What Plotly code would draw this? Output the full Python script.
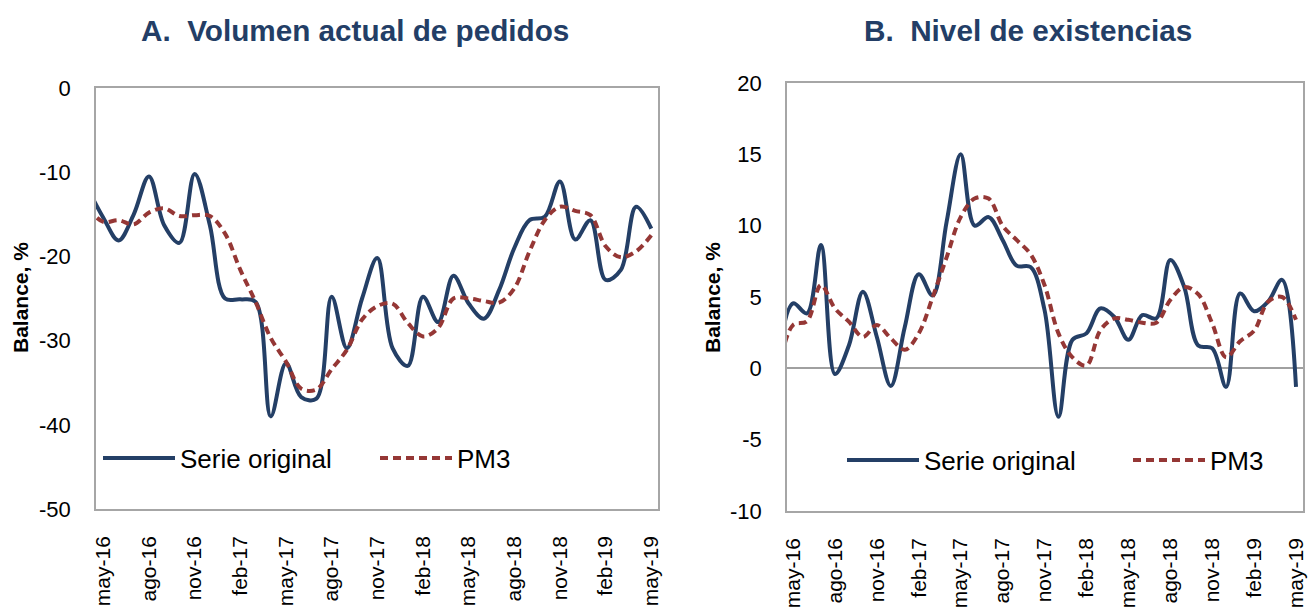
import plotly.graph_objects as go

# ---------------- data ----------------
months = ['abr-16', 'may-16', 'jun-16', 'jul-16', 'ago-16', 'sep-16', 'oct-16', 'nov-16', 'dic-16',
          'ene-17', 'feb-17', 'mar-17', 'abr-17', 'may-17', 'jun-17', 'jul-17', 'ago-17', 'sep-17',
          'oct-17', 'nov-17', 'dic-17', 'ene-18', 'feb-18', 'mar-18', 'abr-18', 'may-18', 'jun-18',
          'jul-18', 'ago-18', 'sep-18', 'oct-18', 'nov-18', 'dic-18', 'ene-19', 'feb-19', 'mar-19',
          'abr-19', 'may-19']

tick_labels = ['may-16', 'ago-16', 'nov-16', 'feb-17', 'may-17', 'ago-17', 'nov-17',
               'feb-18', 'may-18', 'ago-18', 'nov-18', 'feb-19', 'may-19']

pedidos_ticks = [0, -10, -20, -30, -40, -50]
pedidos_tick_text = ['0', '-10', '-20', '-30', '-40', '-50']
existencias_ticks = [20, 15, 10, 5, 0, -5, -10]
existencias_tick_text = ['20', '15', '10', '5', '0', '-5', '-10']

pedidos_original = [-12.0, -15.4, -18.1, -15.0, -10.5, -16.3, -18.4, -10.2, -16.3, -25.0,
                    -25.1, -25.4, -39.0, -32.7, -36.7, -36.9, -24.8, -30.9, -25.0, -20.2,
                    -30.9, -33.0, -24.8, -27.8, -22.3, -25.6, -27.4, -24.0, -19.0, -15.7,
                    -15.3, -11.1, -18.0, -15.7, -22.8, -21.6, -14.1, -16.7]

pedidos_pm3 = [-14.3, -15.9, -15.7, -16.2, -14.8, -14.3, -15.2, -15.1, -15.2, -17.3,
               -21.6, -25.4, -29.7, -32.5, -35.7, -35.8, -33.4, -31.1, -27.5, -25.9,
               -25.6, -27.9, -29.5, -28.5, -25.0, -25.0, -25.3, -25.5, -23.8, -19.4,
               -15.7, -14.1, -14.6, -15.1, -18.8, -20.1, -19.4, -17.5]

existencias_original = [1.0, 4.55, 3.85, 8.64, -0.4, 1.6, 5.37, 2.2, -1.24, 2.9,
                        6.6, 5.1, 10.3, 15.0, 10.0, 10.6, 9.0, 7.2, 7.1, 4.1,
                        -3.4, 2.0, 2.45, 4.2, 3.6, 2.0, 3.73, 3.5, 7.6, 5.7,
                        1.6, 1.4, -1.3, 5.25, 4.0, 4.67, 6.2, -1.3]

existencias_pm3 = [0.0, 3.03, 3.3, 5.84, 4.2, 3.27, 2.2, 3.03, 2.1, 1.3,
                   2.45, 5.0, 7.8, 10.6, 11.9, 11.9, 10.0, 9.0, 8.0, 5.84,
                   2.45, 0.77, 0.2, 2.68, 3.5, 3.4, 3.2, 3.2, 4.79, 5.7,
                   5.2, 3.15, 0.77, 1.9, 2.63, 4.67, 5.0, 3.4]

# ---------------- style ----------------
W, H = 1309, 607
NAVY = '#243F66'
RED = '#953735'
TITLE_COLOR = '#233E66'
AXIS_GREY = '#A6A6A6'
FONT = 'Liberation Sans, Arial, sans-serif'
DASH = '8px,5px'


def px_x(p):
    return p / W


def px_y(p):
    return 1 - p / H


fig = go.Figure()

fig.add_trace(go.Scatter(x=months, y=pedidos_original, mode='lines', name='Serie original',
                         line=dict(color=NAVY, width=4, shape='spline', smoothing=1.0),
                         xaxis='x', yaxis='y', legend='legend', showlegend=True))
fig.add_trace(go.Scatter(x=months, y=pedidos_pm3, mode='lines', name='PM3',
                         line=dict(color=RED, width=4, dash=DASH, shape='spline', smoothing=1.0),
                         xaxis='x', yaxis='y', legend='legend2', showlegend=True))
fig.add_trace(go.Scatter(x=months, y=existencias_original, mode='lines', name='Serie original',
                         line=dict(color=NAVY, width=4, shape='spline', smoothing=1.0),
                         xaxis='x2', yaxis='y2', legend='legend3', showlegend=True))
fig.add_trace(go.Scatter(x=months, y=existencias_pm3, mode='lines', name='PM3',
                         line=dict(color=RED, width=4, dash=DASH, shape='spline', smoothing=1.0),
                         xaxis='x2', yaxis='y2', legend='legend4', showlegend=True))

common_x = dict(type='category', tickvals=tick_labels, ticktext=tick_labels, tickangle=-90,
                showline=True, mirror=True, linecolor=AXIS_GREY, linewidth=1.5,
                showgrid=False, zeroline=False, ticks='', automargin=False,
                tickfont=dict(family=FONT, size=21, color='black'), ticklabelstandoff=17)
common_y = dict(showline=True, mirror=True, linecolor=AXIS_GREY, linewidth=1.5,
                showgrid=False, ticks='', automargin=False,
                tickfont=dict(family=FONT, size=22, color='black'), ticklabelstandoff=19)

legend_common = dict(orientation='h', xanchor='left', yanchor='middle',
                     font=dict(family=FONT, size=26, color='black'),
                     bgcolor='rgba(0,0,0,0)', itemwidth=72,
                     itemclick=False, itemdoubleclick=False)

fig.update_layout(
    width=W, height=H,
    showlegend=True,
    margin=dict(l=0, r=0, t=0, b=0),
    paper_bgcolor='white', plot_bgcolor='white',
    font=dict(family=FONT, color='black'),
    xaxis=dict(common_x, domain=[px_x(96), px_x(658)], range=[0.52, 37.44], anchor='y'),
    yaxis=dict(common_y, domain=[px_y(509), px_y(88)], range=[-50, 0],
               tickvals=pedidos_ticks, ticktext=pedidos_tick_text,
               zeroline=False, anchor='x'),
    xaxis2=dict(common_x, domain=[px_x(787), px_x(1303)], range=[0.57, 37.5], anchor='y2'),
    yaxis2=dict(common_y, domain=[px_y(511), px_y(83)], range=[-10, 20],
                tickvals=existencias_ticks, ticktext=existencias_tick_text,
                zeroline=True, zerolinecolor='#A0A0A0', zerolinewidth=2, anchor='x2'),
    legend=dict(legend_common, x=px_x(98), y=px_y(458)),
    legend2=dict(legend_common, x=px_x(375), y=px_y(458)),
    legend3=dict(legend_common, x=px_x(842), y=px_y(460)),
    legend4=dict(legend_common, x=px_x(1128), y=px_y(460)),
    annotations=[
        dict(text='<b>A.  Volumen actual de pedidos</b>', x=px_x(355), y=px_y(30),
             xref='paper', yref='paper', showarrow=False, xanchor='center', yanchor='middle',
             font=dict(family=FONT, size=29.7, color=TITLE_COLOR)),
        dict(text='<b>B.  Nivel de existencias</b>', x=px_x(1028), y=px_y(30),
             xref='paper', yref='paper', showarrow=False, xanchor='center', yanchor='middle',
             font=dict(family=FONT, size=29.7, color=TITLE_COLOR)),
        dict(text='<b>Balance, %</b>', x=px_x(20), y=px_y(298), textangle=-90,
             xref='paper', yref='paper', showarrow=False, xanchor='center', yanchor='middle',
             font=dict(family=FONT, size=21, color='black')),
        dict(text='<b>Balance, %</b>', x=px_x(712), y=px_y(298), textangle=-90,
             xref='paper', yref='paper', showarrow=False, xanchor='center', yanchor='middle',
             font=dict(family=FONT, size=21, color='black')),
    ],
)

fig.write_html('out.html', config={'displayModeBar': False},
               post_script="document.body.style.margin='0';document.body.style.overflow='hidden';")
